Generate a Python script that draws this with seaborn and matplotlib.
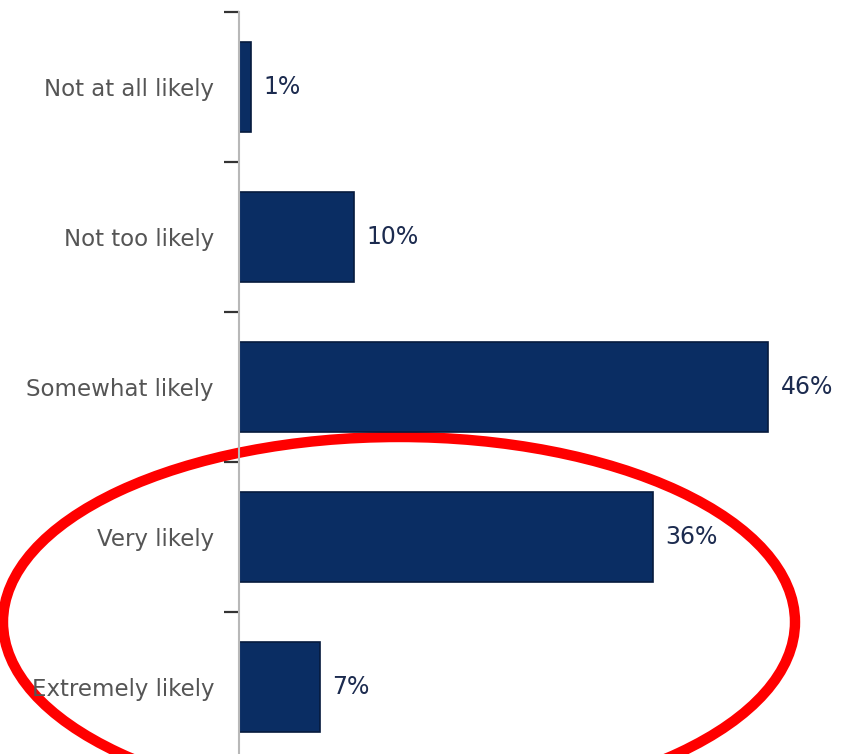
import matplotlib
matplotlib.use("Agg")
import matplotlib.pyplot as plt
from matplotlib.patches import Ellipse
import seaborn as sns
import pandas as pd

categories = ["Not at all likely", "Not too likely", "Somewhat likely",
              "Very likely", "Extremely likely"]
values = [1, 10, 46, 36, 7]
value_labels = ["1%", "10%", "46%", "36%", "7%"]

sns.set_theme(style="white")
plt.rcParams["font.family"] = ["DejaVu Sans"]

df = pd.DataFrame({"category": categories, "share": values})

W, H = 849, 754
fig = plt.figure(figsize=(W / 100, H / 100), dpi=100)

# axes placed in pixel terms: category band -0.5..4.5 spans y=12..762
left_px, right_px = 239, 837
top_px, bottom_px = 12, 762
ax = fig.add_axes([left_px / W, (H - bottom_px) / H,
                   (right_px - left_px) / W, (bottom_px - top_px) / H])

bar_color = "#0a2d63"
sns.barplot(data=df, x="share", y="category", orient="h", color=bar_color,
            width=0.6, edgecolor="#061a3d", linewidth=1.2, ax=ax, saturation=1)

ax.set_xlim(0, 52)
ax.set_ylim(4.5, -0.5)
ax.set_xlabel("")
ax.set_ylabel("")
ax.set_xticks([])

for s in ["top", "right", "bottom"]:
    ax.spines[s].set_visible(False)
ax.spines["left"].set_color("#b8b8b8")
ax.spines["left"].set_linewidth(1.5)

ax.set_yticks(range(len(categories)))
ax.set_yticklabels(categories, fontsize=16.5, color="#555555")
ax.tick_params(axis="y", which="major", left=False, length=0, pad=18)
ax.set_yticks([i - 0.5 for i in range(len(categories) + 1)], minor=True)
ax.tick_params(axis="y", which="minor", left=True, length=10.5, width=1.6,
               color="#333333", direction="out")

for i, (v, lab) in enumerate(zip(values, value_labels)):
    ax.text(v + 1.1, i, lab, va="center", ha="left", fontsize=17,
            color="#1c2b4f")

# red highlight ring around the two most likely answers
ov = fig.add_axes([0, 0, 1, 1], facecolor="none", zorder=-1)
ov.set_xlim(0, W)
ov.set_ylim(H, 0)
ov.axis("off")
ov.add_patch(Ellipse((399, 622), 792, 370, angle=0, fill=False,
                     edgecolor="#ff0000", linewidth=7.5))
ax.set_facecolor("none")

fig.savefig("out.png", dpi=100, facecolor="white")
